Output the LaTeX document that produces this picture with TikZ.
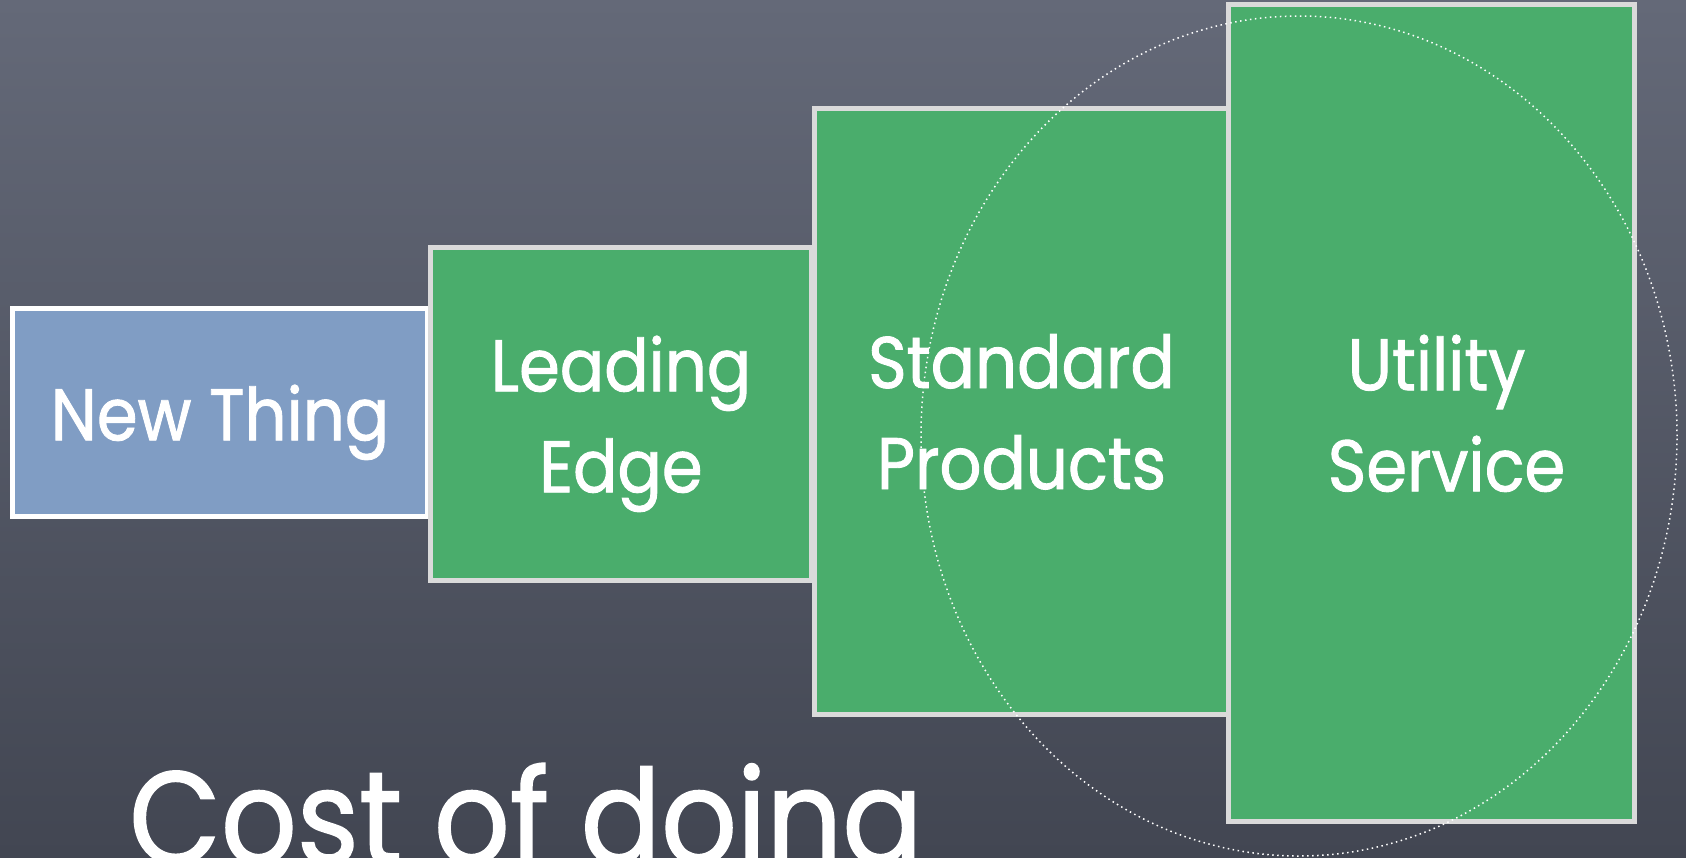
\documentclass[tikz,border=0pt]{standalone}
\usepackage{fontspec}
\setmainfont[FakeStretch=0.9, FakeBold=1.2]{Poppins}
\usepackage{tikz}

\definecolor{boardtop}{RGB}{100,105,120}
\definecolor{boardbottom}{RGB}{66,70,82}
\definecolor{stepgreen}{RGB}{74,173,108}
\definecolor{stepline}{RGB}{218,218,218}
\definecolor{thingblue}{RGB}{128,157,196}

\begin{document}
\begin{tikzpicture}[x=1pt,y=-1pt]
			\tikzstyle{every node}=[text=white, align=center, inner sep=0pt]
			\tikzstyle{card}=[draw=stepline, fill=stepgreen, line width=5pt, text depth=0pt, font=\fontsize{73}{101}\selectfont]

			\clip (0,0) rectangle (1686,857);
			\shade[top color=boardtop, bottom color=boardbottom] (0,0) rectangle (1686,857);

			\node[card, draw=white, fill=thingblue, minimum width=415pt, minimum height=208pt] (NT) at (220,412.5) {New Thing};
			\node[card, minimum width=381pt, minimum height=333pt] (LE) at (621,414) {Leading\\Edge};
			\node[card, minimum width=414pt, minimum height=606pt] (SP) at (1021.5,411.5) {Standard\\Products};
			\node[card, minimum width=406pt, minimum height=817pt] (US) at (1431.5,413) {\hspace*{10pt}Utility\\\hspace*{30pt}Service};

			\node[anchor=base west, font=\fontsize{132}{132}\selectfont] (Cost) at (129,864) {Cost of doing};

			\coordinate (hub) at (1299,436);
			\draw[white, line width=1.5pt, dash pattern=on 1.5pt off 3.5pt] (hub) ellipse [x radius=378pt, y radius=420pt];
		\end{tikzpicture}
\end{document}
